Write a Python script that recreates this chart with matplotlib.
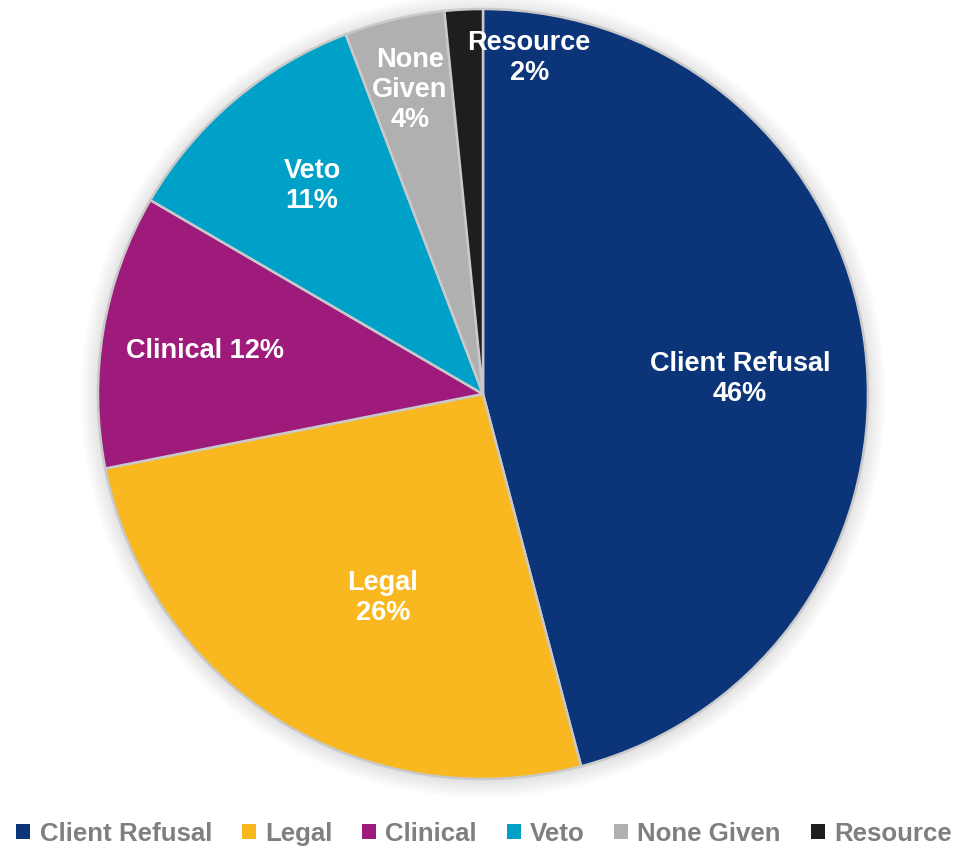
import matplotlib.pyplot as plt
from matplotlib.patches import Patch, Circle

plt.rcParams["font.family"] = ["Liberation Sans", "DejaVu Sans"]

categories = ["Client Refusal", "Legal", "Clinical", "Veto", "None Given", "Resource"]
shares = [45.9, 26.0, 11.5, 10.8, 4.2, 1.6]
label_texts = ["Client Refusal\n46%", "Legal\n26%", "Clinical 12%", "Veto\n11%",
               "None\nGiven\n4%", "Resource\n2%"]
colors = ["#0b3578", "#f9b81f", "#9e1a7b", "#00a1c9", "#b0b0b0", "#1e1e1e"]

# label anchor points, in units of the pie radius
label_pos = [(0.668, 0.04), (-0.26, -0.53), (-0.722, 0.112), (-0.444, 0.54),
             (-0.19, 0.79), (0.12, 0.873)]

fig = plt.figure(figsize=(9.68, 8.49), dpi=100)
ax = fig.add_axes([98 / 968, 70 / 849, 770 / 968, 770 / 849])

# soft shadow round the pie
for i in range(10):
    ax.add_patch(Circle((0, -0.004), 1.0 + i * 0.005, color="#000000",
                        alpha=0.01, lw=0, zorder=0, clip_on=False))

wedges, _ = ax.pie(shares, colors=colors, startangle=90, counterclock=False,
                   radius=1.0,
                   wedgeprops=dict(edgecolor="#c9c9c9", linewidth=1.8))
for w in wedges:
    w.set_zorder(2)

for (x, y), txt in zip(label_pos, label_texts):
    ax.text(x, y, txt, ha="center", va="center", color="white",
            fontsize=19.5, fontweight="bold", linespacing=1.2, zorder=3)

ax.set_xlim(-1, 1)
ax.set_ylim(-1, 1)
ax.set_aspect("equal")
ax.axis("off")

handles = [Patch(facecolor=c, edgecolor="none") for c in colors]
leg = fig.legend(handles, categories, loc="center", bbox_to_anchor=(0.5, 0.018),
                 ncol=6, frameon=False, handlelength=0.55, handleheight=0.55,
                 handletextpad=0.35, columnspacing=1.15, borderaxespad=0,
                 prop=dict(size=18.6, weight="bold"))
for t in leg.get_texts():
    t.set_color("#7f7f7f")

fig.savefig("out.png", dpi=100)
